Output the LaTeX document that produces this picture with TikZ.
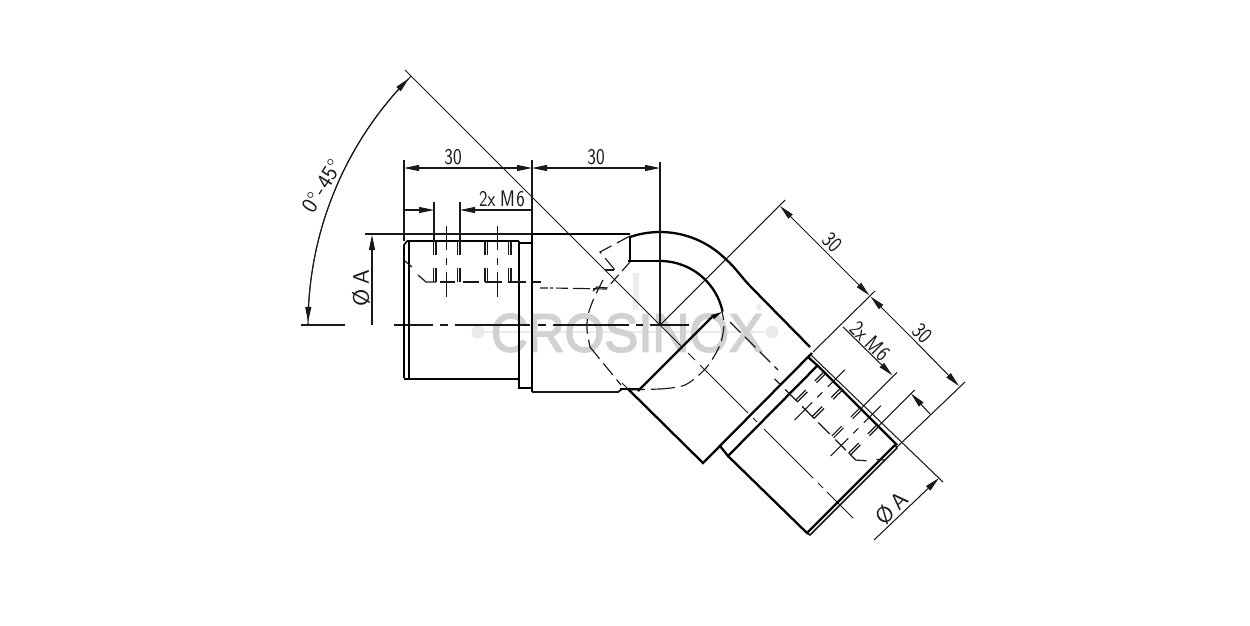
\documentclass[tikz,border=0pt]{standalone}
\usepackage{fontspec}
\usetikzlibrary{arrows.meta}
\newfontfamily\wmfont[FakeBold=3]{Liberation Sans}
\newfontfamily\wmsmall{Liberation Sans}
\tikzset{
  thinln/.style={line width=1.05pt,black!90},
  medln/.style={line width=1.2pt,black!90},
  thickln/.style={line width=2.3pt,black,line join=miter},
  dashln/.style={line width=1.15pt,black!90,dash pattern=on 15pt off 6pt},
  dimarrow/.style={thinln,-{Triangle[length=15pt,width=6pt]}},
  dimtext/.style={inner sep=0pt,font=\fontsize{22.5}{22.5}\selectfont\sffamily,black!90},
  wmtext/.style={inner sep=0pt,text=black!18,font=\fontsize{54}{54}\selectfont\wmfont}
}
\newcommand{\threadpart}{%
  \foreach \tx in {-226.5,-224,-202.5,-200,-175,-172.3,-151.5,-149}{
    \draw[medln] (\tx,-84) -- (\tx,-70);
    \draw[medln] (\tx,-57) -- (\tx,-43);
  }
  \foreach \tx in {-213.3,-162.3}{
    \draw[thinln] (\tx,-99) -- (\tx,-75);
    \draw[thinln] (\tx,-67) -- (\tx,-60);
    \draw[thinln] (\tx,-53) -- (\tx,-28);
  }
  \draw[medln] (-242,-50) -- (-234,-43) -- (-224,-43);
  \foreach \ta/\tb in {-220/-205,-197/-181,-175/-158,-152/-134,-127/-119}{
    \draw[medln] (\ta,-43) -- (\tb,-43);
  }
  \draw[medln] (-255,-64) -- (-248,-58);
}
\begin{document}
\begin{tikzpicture}[x=1pt,y=-1pt]
\useasboundingbox[fill=white] (0,0) rectangle (1250,625);
% watermark
\fill[black!7] (633,273) rectangle (638.5,310);
\draw[line width=1.4pt,black!8] (478,332) -- (772,332);
\fill[black!8] (478,332) circle[radius=6.5pt];
\fill[black!8] (772,332) circle[radius=6.5pt];
\node[wmtext,xscale=.945] (wm) at (627,333) {CROSINOX};
\node[inner sep=0pt,text=black!20,font=\fontsize{8}{8}\selectfont\wmsmall] (wmr) at (759,308) {®};

% centre lines
\coordinate (O) at (660,325);
\foreach \ta/\tb in {394/433,440/448,455/530,538/546,553/629,636/643,650/660}{
  \draw[thinln] (\ta,325) -- (\tb,325);
}
\draw[thinln] (660,325) -- (689,325);
\draw[thinln] (301,325) -- (345,325);
\draw[thinln] (405,70) -- (O) -- (682,347);
\draw[thinln] (688,353) -- (695,360);
\draw[thinln] (700,365) -- (748,413);
\draw[thinln] (753,418) -- (757,422);
\draw[thinln] (764,429) -- (813,478);
\draw[thinln] (818,483) -- (823,488);
\draw[thinln] (827,492) -- (853,518);

% left cylinder
\draw[thickln] (409,241) -- (409,379) -- (519,379) (407,241) -- (519,241);
\draw[thickln,line width=1.7pt] (404,378) -- (404,245) -- (407,241) (404,379) -- (409,379) (519,241) -- (519,379);
\draw[thickln,line width=1.7pt] (519,243) -- (532,243) (519,379) -- (519,388) -- (532,388);
% body
\draw[thickln] (630,236) -- (630,261) (628,261) -- (660,261);
\draw[thickln] (532,392) -- (532,234) -- (630,234);
\draw[medln,line width=1.8pt] (532,392) -- (618,392) -- (622,389);
\draw[thickln] (620,389) -- (641,389);
\draw[thickln] plot[domain=108.9:45,samples=30] ({660+93*cos(\x)},{325-93*sin(\x)});
\draw[thickln] (725.8,259.2) .. controls (735,267) and (742,278) .. (752,288) -- (810,347);
\draw[thickln] plot[domain=90:12,samples=30] ({660+64*cos(\x)},{325-64*sin(\x)});
\draw[thickln] (638,391) -- (712,317);
\fill (722,312) -- (711,315) -- (714,319) -- cycle;
\draw[thinln] (622,383) -- (628,389);
\draw[thickln] (628,389) -- (703,463) -- (812,353);
% right cylinder
\draw[thickln] (720,446) -- (728,456) -- (818,365);
\draw[thickln] (808,357) -- (818,366) -- (897,445);
\draw[thickln] (728,456) -- (807,533) -- (895,445);
\draw[medln,line width=1.6pt] (807,533) -- (810,535) -- (897,448) -- (895,445);

% hidden lines
\draw[dashln] plot[smooth] coordinates {(603,280) (594,298) (588,315) (587,330) (590,347)};
\draw[dashln] (590,347) -- (621,385);
\draw[dashln] (630,390) -- (660,389);
\draw[dashln] plot[smooth] coordinates {(660,389) (685,385) (706,368) (720,345) (724,325) (722,312)};
\draw[dashln] (630,236) -- (600,252) -- (615,270);
\draw[thinln] (605,270) -- (614,270);
\draw[dashln,dash pattern=on 12pt off 5pt] (630,262) -- (607,288);
\draw[medln] (593,291) -- (597,287) -- (607,288);
\draw[dashln,dash pattern=on 8pt off 2pt on 3pt off 3pt on 12pt off 5pt on 17pt off 3pt on 15pt off 2pt] (540,288) -- (553,288) -- (607,289);
\draw[dashln] (730,322) -- (778,370);

% threads
\begin{scope}[shift={(660,325)},x=1pt,y=-1pt]
  \threadpart
  \draw[thinln] (-226,-123) -- (-226,-84);
  \draw[thinln] (-200,-123) -- (-200,-84);
\end{scope}
\begin{scope}[shift={(660,325)},x={(-.7071pt,.7071pt)},y={(-.7071pt,-.7071pt)}]
  \threadpart
  \draw[thinln] (-226,-134) -- (-226,-84);
  \draw[thinln] (-201,-134) -- (-201,-84);
\end{scope}

% dimensions, left
\draw[thinln] (660,162) -- (O);
\draw[thinln] (404,160) -- (404,241);
\draw[thinln] (532,160) -- (532,234);
\draw[dimarrow] (468,168) -- (404,168);
\draw[dimarrow] (468,168) -- (532,168);
\draw[dimarrow] (596,168) -- (532,168);
\draw[dimarrow] (596,168) -- (660,168);
\node[dimtext,xscale=.82] (a1) at (453,157) {30};
\node[dimtext,xscale=.82] (a2) at (596,157) {30};
\draw[dimarrow] (404,210) -- (434,210);
\draw[dimarrow] (532,210) -- (460,210);
\node[dimtext,xscale=.8] (a3) at (502,199) {2x\hspace{6pt}M\hspace{2pt}6};
\draw[thinln] (365,234) -- (532,234);
\draw[dimarrow] (372,325) -- (372,235);
\node[dimtext,rotate=90,xscale=1.05] (a4) at (361,288) {Ø\hspace{4pt}A};
\draw[dimarrow] plot[domain=180:135.5,samples=40] ({660+352*cos(\x)},{325-352*sin(\x)});
\draw[dimarrow] plot[domain=135:179.5,samples=40] ({660+352*cos(\x)},{325-352*sin(\x)});
\node[dimtext,rotate=58] (a5) at (322,186) {0°\hspace{1pt}-\hspace{1pt}45°};

% dimensions, right
\draw[thinln] (O) -- (785,200);
\draw[thinln] (813,352) -- (875,291);
\draw[thinln] (897,447) -- (965,382);
\draw[thinln] (811,355) -- (943,482);
\draw[dimarrow] (825,251) -- (780,206);
\draw[dimarrow] (825,251) -- (869.5,295.5);
\draw[dimarrow] (915,341) -- (870.5,296.5);
\draw[dimarrow] (915,341) -- (959,386);
\draw[dimarrow] (843,327) -- (892.5,375.5);
\draw[dimarrow] (930,414) -- (911,393.5);
\draw[dimarrow] (874,540) -- (939,478);
\node[dimtext,rotate=-45,xscale=.82] (b1) at (832,242) {30};
\node[dimtext,rotate=-45,xscale=.82] (b2) at (922,333) {30};
\node[dimtext,rotate=-45,xscale=.8] (b3) at (870,341) {2x\hspace{6pt}M\hspace{2pt}6};
\node[dimtext,rotate=45,xscale=1.05] (b4) at (892,508) {Ø\hspace{4pt}A};
\end{tikzpicture}
\end{document}
